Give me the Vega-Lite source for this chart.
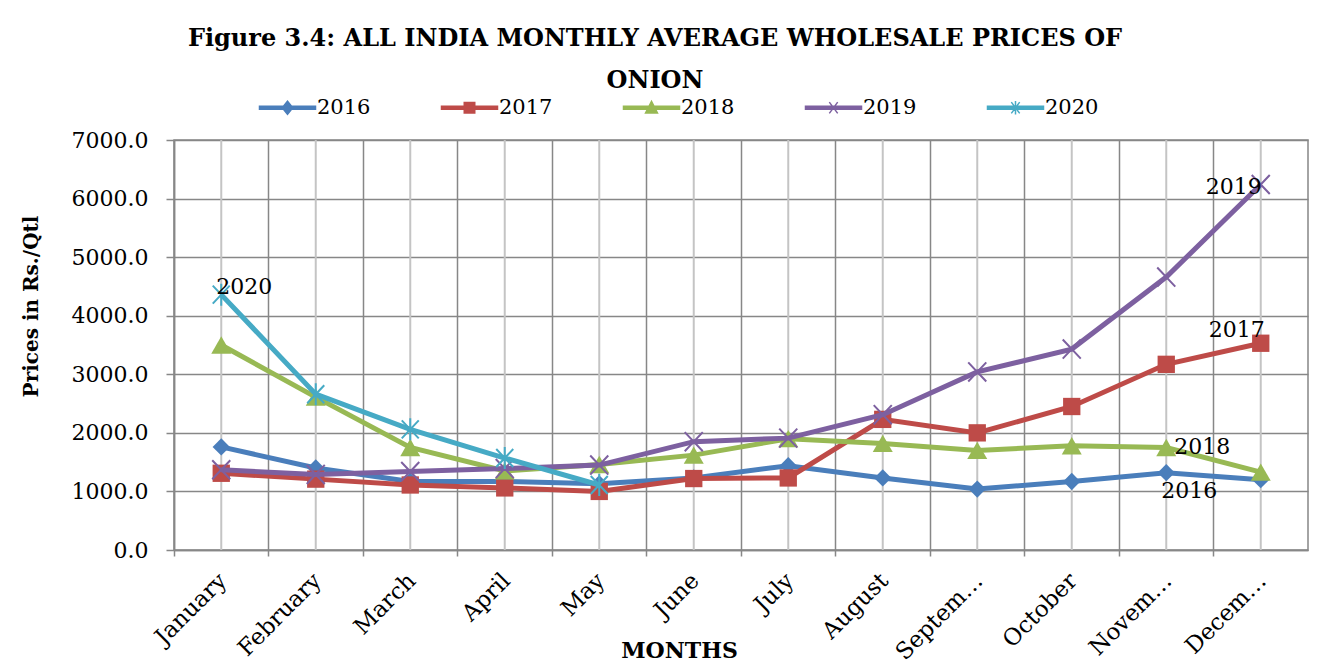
{
  "$schema": "https://vega.github.io/schema/vega-lite/v6.json",
  "width": 1134,
  "height": 410,
  "autosize": {"type": "none"},
  "padding": {"left": 174, "top": 140, "right": 32, "bottom": 115},
  "background": "white",
  "title": {
    "text": ["Figure 3.4: ALL INDIA MONTHLY AVERAGE WHOLESALE PRICES OF", "ONION"],
    "font": "DejaVu Serif",
    "fontSize": 24,
    "fontWeight": "bold",
    "lineHeight": 42,
    "anchor": "middle",
    "dx": -86,
    "dy": 40,
    "offset": 44,
    "color": "black"
  },
  "config": {
    "view": {"stroke": "#878787", "strokeWidth": 1.5},
    "font": "DejaVu Serif"
  },
  "data": {
    "values": [
      {"month": "January", "year": "2016", "price": 1760},
      {"month": "February", "year": "2016", "price": 1400},
      {"month": "March", "year": "2016", "price": 1170},
      {"month": "April", "year": "2016", "price": 1170},
      {"month": "May", "year": "2016", "price": 1130},
      {"month": "June", "year": "2016", "price": 1230},
      {"month": "July", "year": "2016", "price": 1440},
      {"month": "August", "year": "2016", "price": 1230},
      {"month": "September", "year": "2016", "price": 1040},
      {"month": "October", "year": "2016", "price": 1170},
      {"month": "November", "year": "2016", "price": 1320},
      {"month": "December", "year": "2016", "price": 1200},
      {"month": "January", "year": "2017", "price": 1310},
      {"month": "February", "year": "2017", "price": 1210},
      {"month": "March", "year": "2017", "price": 1110},
      {"month": "April", "year": "2017", "price": 1060},
      {"month": "May", "year": "2017", "price": 1000},
      {"month": "June", "year": "2017", "price": 1220},
      {"month": "July", "year": "2017", "price": 1230},
      {"month": "August", "year": "2017", "price": 2230},
      {"month": "September", "year": "2017", "price": 2000},
      {"month": "October", "year": "2017", "price": 2450},
      {"month": "November", "year": "2017", "price": 3170},
      {"month": "December", "year": "2017", "price": 3530},
      {"month": "January", "year": "2018", "price": 3500},
      {"month": "February", "year": "2018", "price": 2610},
      {"month": "March", "year": "2018", "price": 1750},
      {"month": "April", "year": "2018", "price": 1350},
      {"month": "May", "year": "2018", "price": 1460},
      {"month": "June", "year": "2018", "price": 1620},
      {"month": "July", "year": "2018", "price": 1900},
      {"month": "August", "year": "2018", "price": 1820},
      {"month": "September", "year": "2018", "price": 1700},
      {"month": "October", "year": "2018", "price": 1780},
      {"month": "November", "year": "2018", "price": 1750},
      {"month": "December", "year": "2018", "price": 1330},
      {"month": "January", "year": "2019", "price": 1370},
      {"month": "February", "year": "2019", "price": 1290},
      {"month": "March", "year": "2019", "price": 1340},
      {"month": "April", "year": "2019", "price": 1390},
      {"month": "May", "year": "2019", "price": 1450},
      {"month": "June", "year": "2019", "price": 1850},
      {"month": "July", "year": "2019", "price": 1910},
      {"month": "August", "year": "2019", "price": 2310},
      {"month": "September", "year": "2019", "price": 3040},
      {"month": "October", "year": "2019", "price": 3430},
      {"month": "November", "year": "2019", "price": 4660},
      {"month": "December", "year": "2019", "price": 6240},
      {"month": "January", "year": "2020", "price": 4360},
      {"month": "February", "year": "2020", "price": 2660},
      {"month": "March", "year": "2020", "price": 2060},
      {"month": "April", "year": "2020", "price": 1570},
      {"month": "May", "year": "2020", "price": 1110}
    ]
  },
  "encoding": {
    "x": {
      "field": "month",
      "type": "ordinal",
      "sort": ["January", "February", "March", "April", "May", "June", "July", "August", "September", "October", "November", "December"],
      "scale": {"paddingInner": 0, "paddingOuter": 0},
      "axis": {
        "title": "MONTHS",
        "titleFont": "DejaVu Serif",
        "titleFontSize": 22,
        "titleFontWeight": "bold",
        "titleColor": "black",
        "titleX": 505,
        "titleY": 107,
        "titleBaseline": "alphabetic",
        "titleAlign": "center",
        "labelAngle": -45,
        "labelFont": "DejaVu Serif",
        "labelFontSize": 23,
        "labelColor": "black",
        "labelPadding": 13,
        "labelOffset": -6,
        "labelExpr": "datum.label == 'September' ? 'Septem…' : datum.label == 'November' ? 'Novem…' : datum.label == 'December' ? 'Decem…' : datum.label",
        "grid": true,
        "gridColor": "#878787",
        "gridWidth": 1.5,
        "bandPosition": 0,
        "ticks": true,
        "tickSize": 6,
        "tickColor": "#878787",
        "tickWidth": 1.5,
        "domainColor": "#878787",
        "domainWidth": 1.5
      }
    }
  },
  "layer": [
    {
      "transform": [{"filter": "datum.year == '2016'"}],
      "mark": {"type": "rule", "color": "#C4C4C4", "strokeWidth": 2},
      "encoding": {}
    },
    {
      "transform": [{"filter": "datum.year == '2016'"}],
      "mark": {"type": "line", "strokeWidth": 5, "point": {"shape": "diamond", "size": 300, "filled": true}},
      "encoding": {
        "y": {
          "field": "price",
          "type": "quantitative",
          "scale": {"domain": [0, 7000]},
          "axis": {
            "values": [0, 1000, 2000, 3000, 4000, 5000, 6000, 7000],
            "format": ".1f",
            "title": "Prices in Rs./Qtl",
            "titleFont": "DejaVu Serif",
            "titleFontSize": 20,
            "titleFontWeight": "bold",
            "titleColor": "black",
            "titleX": -143,
            "titleY": 166,
            "titleAngle": -90,
            "titleBaseline": "middle",
            "titleAlign": "center",
            "labelFont": "DejaVu Serif",
            "labelFontSize": 22,
            "labelColor": "black",
            "labelPadding": 18,
            "grid": true,
            "gridColor": "#878787",
            "gridWidth": 1.5,
            "tickSize": 8,
            "tickColor": "#878787",
            "tickWidth": 1.5,
            "domainColor": "#878787",
            "domainWidth": 1.5
          }
        },
        "color": {"field": "year", "type": "nominal", "scale": {"domain": ["2016", "2017", "2018", "2019", "2020"], "range": ["#4A7EBB", "#BE4B48", "#98B954", "#7D60A0", "#46AAC5"]}}
      }
    },
    {
      "transform": [{"filter": "datum.year == '2017'"}],
      "mark": {"type": "line", "strokeWidth": 5, "point": {"shape": "square", "size": 300, "filled": true}},
      "encoding": {
        "y": {"field": "price", "type": "quantitative"},
        "color": {"field": "year", "type": "nominal"}
      }
    },
    {
      "transform": [{"filter": "datum.year == '2018'"}],
      "mark": {"type": "line", "strokeWidth": 5, "point": {"shape": "triangle-up", "size": 400, "filled": true}},
      "encoding": {
        "y": {"field": "price", "type": "quantitative"},
        "color": {"field": "year", "type": "nominal"}
      }
    },
    {
      "transform": [{"filter": "datum.year == '2019'"}],
      "mark": {"type": "line", "strokeWidth": 5, "point": {"shape": "M-0.85,-0.9L0.85,0.9M-0.85,0.9L0.85,-0.9", "size": 450, "filled": false, "strokeWidth": 2}},
      "encoding": {
        "y": {"field": "price", "type": "quantitative"},
        "color": {"field": "year", "type": "nominal"}
      }
    },
    {
      "transform": [{"filter": "datum.year == '2020'"}],
      "mark": {"type": "line", "strokeWidth": 5, "point": {"shape": "M-0.85,-0.9L0.85,0.9M-0.85,0.9L0.85,-0.9M0,-1.1V1.1", "size": 400, "filled": false, "strokeWidth": 2}},
      "encoding": {
        "y": {"field": "price", "type": "quantitative"},
        "color": {"field": "year", "type": "nominal"}
      }
    },
    {
      "mark": {"type": "point", "filled": true, "opacity": 0},
      "encoding": {
        "y": {"field": "price", "type": "quantitative"},
        "color": {
          "field": "year",
          "type": "nominal",
          "legend": {
            "title": null,
            "orient": "none",
            "direction": "horizontal",
            "columns": 5,
            "legendX": 103,
            "legendY": -43,
            "padding": 0,
            "columnPadding": 67,
            "symbolSize": 196,
            "labelOffset": 19,
            "labelFont": "DejaVu Serif",
            "labelFontSize": 21,
            "labelColor": "black",
            "encode": {
              "symbols": {
                "update": {
                  "opacity": {"value": 1},
                  "stroke": {"scale": "color", "field": "value"},
                  "strokeWidth": {"value": 1.5}
                }
              }
            }
          }
        },
        "shape": {
          "field": "year",
          "type": "nominal",
          "scale": {
            "domain": ["2016", "2017", "2018", "2019", "2020"],
            "range": [
              "M-4,-0.22H4V0.22H-4Z M0,-0.95L0.75,0L0,0.95L-0.75,0Z",
              "M-4,-0.22H4V0.22H-4Z M-0.75,-0.75H0.75V0.75H-0.75Z",
              "M-4,-0.22H4V0.22H-4Z M0,-0.9L0.85,0.75H-0.85Z",
              "M-4,-0.22H4V0.22H-4Z M-0.6,-0.8L0.6,0.8M-0.6,0.8L0.6,-0.8",
              "M-4,-0.22H4V0.22H-4Z M-0.6,-0.8L0.6,0.8M-0.6,0.8L0.6,-0.8M0,-0.95V0.95"
            ]
          },
          "legend": {"title": null}
        }
      }
    },
    {
      "transform": [{"filter": "datum.year == '2020' && datum.month == 'January'"}],
      "mark": {"type": "text", "align": "left", "baseline": "middle", "dx": -5, "dy": -8, "fontSize": 22, "font": "DejaVu Serif", "color": "black"},
      "encoding": {"y": {"field": "price", "type": "quantitative"}, "text": {"field": "year"}}
    },
    {
      "transform": [{"filter": "datum.year == '2019' && datum.month == 'December'"}],
      "mark": {"type": "text", "align": "right", "baseline": "middle", "dx": 1, "dy": 2, "fontSize": 22, "font": "DejaVu Serif", "color": "black"},
      "encoding": {"y": {"field": "price", "type": "quantitative"}, "text": {"field": "year"}}
    },
    {
      "transform": [{"filter": "datum.year == '2017' && datum.month == 'December'"}],
      "mark": {"type": "text", "align": "right", "baseline": "middle", "dx": 4, "dy": -13, "fontSize": 22, "font": "DejaVu Serif", "color": "black"},
      "encoding": {"y": {"field": "price", "type": "quantitative"}, "text": {"field": "year"}}
    },
    {
      "transform": [{"filter": "datum.year == '2018' && datum.month == 'November'"}],
      "mark": {"type": "text", "align": "left", "baseline": "middle", "dx": 8, "dy": -1, "fontSize": 22, "font": "DejaVu Serif", "color": "black"},
      "encoding": {"y": {"field": "price", "type": "quantitative"}, "text": {"field": "year"}}
    },
    {
      "transform": [{"filter": "datum.year == '2016' && datum.month == 'November'"}],
      "mark": {"type": "text", "align": "left", "baseline": "middle", "dx": -5, "dy": 18, "fontSize": 22, "font": "DejaVu Serif", "color": "black"},
      "encoding": {"y": {"field": "price", "type": "quantitative"}, "text": {"field": "year"}}
    }
  ]
}
